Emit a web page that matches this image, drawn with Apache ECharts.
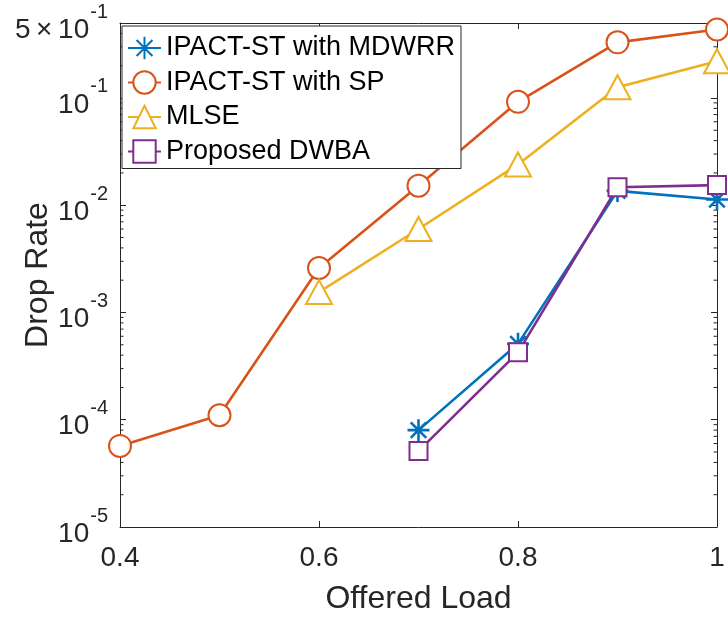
<!DOCTYPE html>
<html>
<head>
<meta charset="utf-8">
<script src="https://cdn.jsdelivr.net/npm/echarts@6/dist/echarts.min.js"></script>
<style>html,body{margin:0;padding:0;background:#fff}#c{width:728px;height:619px}</style>
</head>
<body>
<div id="c"></div>
<script>
var loads = [0.4, 0.5, 0.6, 0.7, 0.8, 0.9, 1.0];
var seriesNames = ['IPACT-ST with MDWRR', 'IPACT-ST with SP', 'MLSE', 'Proposed DWBA'];
var mdwrr = [null, null, null, 8.0e-5, 5.1e-4, 1.36e-2, 1.13e-2];
var sp    = [5.7e-5, 1.1e-4, 2.6e-3, 1.52e-2, 9.2e-2, 3.3e-1, 4.35e-1];
var mlse  = [null, null, 1.55e-3, 6.0e-3, 2.4e-2, 1.26e-1, 2.2e-1];
var dwba  = [null, null, null, 5.1e-5, 4.25e-4, 1.47e-2, 1.54e-2];
var xTicks = [0.4, 0.6, 0.8, 1];
var yMin = 1e-5, yMax = 0.5;
var minorMantissas = [2, 3, 4, 5, 6, 7, 8, 9];

function pairs(arr) {
  var out = [];
  for (var i = 0; i < loads.length; i++) if (arr[i] !== null) out.push([loads[i], arr[i]]);
  return out;
}
var minorVals = [];
for (var e = -5; e <= -1; e++) {
  minorMantissas.forEach(function (m) {
    var v = m * Math.pow(10, e);
    if (v < yMax - 1e-9) minorVals.push(v);
  });
}

var FONT = '"Liberation Sans", Arial, Helvetica, sans-serif';
var AX = '#262626';
var asterisk = 'path://M0,-10L0,10M-10,0L10,0M-7.07,-7.07L7.07,7.07M-7.07,7.07L7.07,-7.07';

function yFmt(v) {
  var e = Math.floor(Math.log10(v) + 1e-6);
  var m = Math.round(v / Math.pow(10, e));
  return (m === 1 ? '' : '{b|' + m + '\u2009×\u2009}') + '{b|10}{s|' + e + '}';
}

var chart = echarts.init(document.getElementById('c'), null, {renderer: 'canvas'});
var lw = 2.6;
var option = {
  backgroundColor: '#fff',
  animation: false,
  textStyle: {fontFamily: FONT},
  grid: {left: 120, right: 11, top: 23, bottom: 92, containLabel: false, outerBoundsMode: 'none'},
  legend: {
    data: seriesNames,
    orient: 'vertical',
    left: 122, top: 26,
    padding: [8, 6, 3, 5],
    itemGap: 6.5,
    itemWidth: 33, itemHeight: 28,
    backgroundColor: '#fff',
    borderColor: AX, borderWidth: 1,
    textStyle: {fontSize: 27, color: '#000', fontFamily: FONT, lineHeight: 28}
  },
  xAxis: [{
    type: 'value', min: 0.4, max: 1, interval: 0.2,
    name: 'Offered Load', nameLocation: 'middle', nameGap: 56, nameMoveOverlap: false,
    nameTextStyle: {fontSize: 32, color: AX, fontFamily: FONT},
    axisLine: {lineStyle: {color: AX, width: 1}},
    axisTick: {inside: true, length: 6, lineStyle: {color: AX}},
    axisLabel: {fontSize: 28, color: AX, margin: 17, fontFamily: FONT, hideOverlap: false,
      formatter: function (v) { return String(Math.round(v * 10) / 10); }},
    splitLine: {show: false}
  }, {
    type: 'value', position: 'top', min: 0.4, max: 1, interval: 0.2,
    axisLine: {show: true, lineStyle: {color: AX, width: 1}},
    axisTick: {inside: true, length: 6, lineStyle: {color: AX}},
    axisLabel: {show: false}, splitLine: {show: false}
  }],
  yAxis: [{
    type: 'log', logBase: 10, min: yMin, max: yMax,
    name: 'Drop Rate', nameLocation: 'middle', nameGap: 66, nameMoveOverlap: false,
    nameTextStyle: {fontSize: 32, color: AX, fontFamily: FONT},
    axisLine: {show: true, lineStyle: {color: AX, width: 1}},
    axisTick: {inside: true, length: 6, lineStyle: {color: AX}},
    axisLabel: {
      margin: 12, color: AX, formatter: yFmt, hideOverlap: false,
      rich: {
        b: {fontSize: 28, color: AX, fontFamily: FONT, verticalAlign: 'bottom', padding: [14, 0, 0, 0]},
        s: {fontSize: 20, color: AX, fontFamily: FONT, verticalAlign: 'top', padding: [0, 0, 0, 1]}
      }
    },
    splitLine: {show: false}
  }, {
    type: 'log', logBase: 10, min: yMin, max: yMax, position: 'right',
    axisLine: {show: true, lineStyle: {color: AX, width: 1}},
    axisTick: {inside: true, length: 6, lineStyle: {color: AX}},
    axisLabel: {show: false}, splitLine: {show: false}
  }],
  series: [
    {
      type: 'custom', name: 'minor', silent: true, clip: false, z: 1,
      xAxisIndex: 0, yAxisIndex: 0,
      data: minorVals.map(function (v) { return [0.4, v]; }),
      renderItem: function (params, api) {
        var v = api.value(1);
        var pL = api.coord([0.4, v]);
        var pR = api.coord([1, v]);
        var st = {stroke: AX, lineWidth: 1};
        return {type: 'group', children: [
          {type: 'line', shape: {x1: pL[0], y1: pL[1], x2: pL[0] + 3.5, y2: pL[1]}, style: st},
          {type: 'line', shape: {x1: pR[0], y1: pR[1], x2: pR[0] - 3.5, y2: pR[1]}, style: st}
        ]};
      }
    },
    {
      name: seriesNames[0], type: 'line', data: pairs(mdwrr), z: 3,
      symbol: asterisk, symbolSize: 22,
      itemStyle: {color: '#0072BD', borderColor: '#0072BD', borderWidth: lw},
      lineStyle: {color: '#0072BD', width: lw}
    },
    {
      name: seriesNames[1], type: 'line', data: pairs(sp), z: 3,
      symbol: 'emptyCircle', symbolSize: 22,
      itemStyle: {color: '#D95319', borderColor: '#D95319', borderWidth: lw},
      lineStyle: {color: '#D95319', width: lw}
    },
    {
      name: seriesNames[2], type: 'line', data: pairs(mlse), z: 3,
      symbol: 'emptyTriangle', symbolSize: [26, 24],
      itemStyle: {color: '#EDB120', borderColor: '#EDB120', borderWidth: lw},
      lineStyle: {color: '#EDB120', width: lw}
    },
    {
      name: seriesNames[3], type: 'line', data: pairs(dwba), z: 3,
      symbol: 'emptyRect', symbolSize: 18,
      itemStyle: {color: '#7E2F8E', borderColor: '#7E2F8E', borderWidth: lw},
      lineStyle: {color: '#7E2F8E', width: lw}
    }
  ]
};
chart.setOption(option);
</script>
</body>
</html>
